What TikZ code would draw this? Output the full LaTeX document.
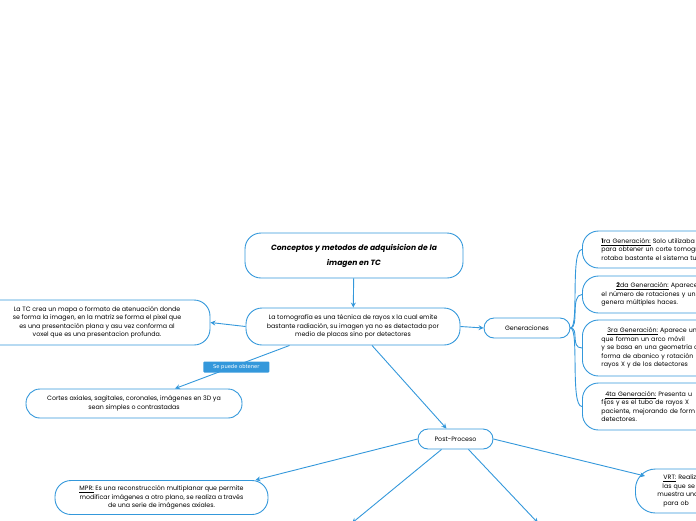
\documentclass[tikz,border=0pt]{standalone}
\usepackage{fontspec}
\setmainfont{Poppins}
\newfontfamily\etiqfont{DejaVu Sans}
\usetikzlibrary{arrows.meta, positioning, calc}
\definecolor{azulMapa}{RGB}{52, 152, 219}

\begin{document}
\begin{tikzpicture}[x=1pt, y=-1pt,
        concepto/.style={rectangle, rounded corners=16pt, draw=azulMapa, line width=0.9pt, fill=white, align=center, font=\fontsize{6.3}{8.4}\selectfont, inner sep=2pt},
        generacion/.style={concepto, anchor=west, align=left, text width=170pt, inner xsep=19pt, minimum height=37pt},
        etiqueta/.style={rectangle, rounded corners=1pt, fill=azulMapa, text=white, font=\etiqfont\fontsize{5.2}{6}\selectfont, minimum width=66pt, minimum height=11pt, inner sep=1pt},
        flecha/.style={draw=azulMapa, line width=0.9pt, -{Stealth[length=5pt, width=5pt]}},
        rama/.style={draw=azulMapa, line width=0.9pt}]
    \useasboundingbox (0,0) rectangle (696,520);
    \clip (0,0) rectangle (696,520);
    % nodos
    \node[concepto, minimum width=218pt, minimum height=45pt, font=\fontsize{7.6}{15}\selectfont\itshape\bfseries] (titulo) at (354,255.5) {Conceptos y metodos de adquisicion de la\\imagen en TC};
    \node[concepto, minimum width=214pt, minimum height=37pt] (tomo) at (353,326.5) {La tomografía es una técnica de rayos x la cual emite\\bastante radiación, su imagen ya no es detectada por\\medio de placas sino por detectores};
    \node[concepto, minimum width=226pt, minimum height=45pt] (mapa) at (97,322.5) {La TC crea un mapa o formato de atenuación donde\\se forma la imagen, en la matriz se forma el pixel que\\es una presentación plana y asu vez conforma al\\voxel que es una presentacion profunda.};
    \node[concepto, minimum width=216pt, minimum height=29pt, rounded corners=14pt] (cortes) at (134,403.5) {Cortes axiales, sagitales, coronales, imágenes en 3D ya\\sean simples o contrastadas};
    \node[concepto, minimum width=86pt, minimum height=20pt, rounded corners=10pt] (gen) at (527,328) {Generaciones};
    \node[generacion] (gen1) at (582,249.5) {\underline{\textbf{1}ra Generación:} Solo utilizaba\\para obtener un corte tomogr\\rotaba bastante el sistema tub};
    \node[generacion] (gen2) at (582,294.5) {\hspace*{15pt}\underline{\textbf{2}da Generación:} Aparecen 3\\el número de rotaciones y un\\genera múltiples haces.};
    \node[generacion, minimum height=56pt] (gen3) at (582,348) {\hspace*{6pt}\underline{3ra Generación:} Aparece un\\que forman un arco móvil\\y se basa en una geometría d\\forma de abanico y rotación\\rayos X y de los detectores};
    \node[generacion, minimum height=47pt] (gen4) at (582,406.5) {\hspace*{4pt}\underline{4ta Generación:} Presenta u\\fijos y es el tubo de rayos X\\paciente, mejorando de form\\detectores.};
    \node[concepto, minimum width=75pt, minimum height=20pt, rounded corners=10pt] (post) at (455.5,439) {Post-Proceso};
    \node[concepto, minimum width=213pt, minimum height=34pt] (mpr) at (161.5,497.5) {\underline{MPR:} Es una reconstrucción multiplanar que permite\\modificar imágenes a otro plano, se realiza a través\\de una serie de imágenes axiales.};
    \node[generacion, minimum height=44pt, rounded corners=20pt, inner xsep=22pt] (vrt) at (635,491) {\hspace*{6pt}\underline{VRT:} Realiz\\\hspace*{5pt}las que se\\muestra una\\\hspace*{6pt}para ob};
    \coordinate (sal1) at (352,523);
    \coordinate (sal2) at (538,523);
    % conectores
    \draw[flecha] (titulo) -- (tomo);
    \draw[flecha] (tomo.west) -- (mapa.east);
    \draw[flecha] ($(tomo.south west)+(44,0)$) -- ($(cortes.north)+(41,0)$)
        node[etiqueta, pos=0.5, xshift=4pt] (obtener) {Se puede obtener};
    \draw[flecha] (tomo.east) -- (gen.west);
    \foreach \g in {gen1, gen2, gen3, gen4}
        \draw[rama] (gen.east) .. controls ($(gen.east)+(9,0)$) and ($(\g.west)+(-12,0)$) .. (\g.west);
    \draw[flecha] ($(tomo.south)+(19,0)$) -- ($(post.north)+(-9,0)$);
    \draw[flecha] (post.west) -- ($(mpr.north east)+(-13,0)$);
    \draw[flecha] (post.east) -- ($(vrt.west)+(10,-15)$);
    \draw[flecha] ($(post.south)+(-14,0)$) -- (sal1);
    \draw[flecha] ($(post.south)+(13,0)$) -- (sal2);
\end{tikzpicture}
\end{document}
